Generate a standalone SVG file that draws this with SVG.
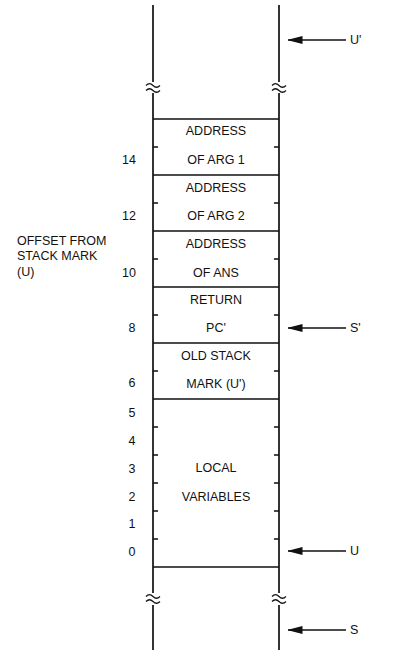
<svg xmlns="http://www.w3.org/2000/svg" width="401" height="671" viewBox="0 0 401 671">
<style>
text{font-family:"Liberation Sans",Arial,sans-serif;font-size:12.5px;fill:#111;dominant-baseline:central}
.c{text-anchor:middle}
.ln{stroke:#111;stroke-width:1.7;fill:none}
.tk{stroke:#111;stroke-width:1.5;fill:none}
.wv{stroke:#111;stroke-width:1.2;fill:none}
.ar{stroke:#111;stroke-width:1.5;fill:none}
</style>
<defs>
<marker id="ah" viewBox="0 0 15 8" refX="14.5" refY="4" markerWidth="15" markerHeight="8" markerUnits="userSpaceOnUse" orient="auto">
<path d="M15,4 L0,0 L0,8 Z" fill="#111"/>
</marker>
<g id="brk">
<path d="M-7,-2.5 q3.5,-3.5 7,0 t7,0" class="wv"/>
<path d="M-7,2.5 q3.5,-3.5 7,0 t7,0" class="wv"/>
</g>
</defs>
<g id="stack">
<path class="ln" d="M153,5 V82 M153,93 V593 M153,605 V650 M279,5 V82 M279,93 V593 M279,605 V650"/>
<path class="ln" d="M153,119 H279 M153,175 H279 M153,231 H279 M153,287 H279 M153,343 H279 M153,399 H279 M153,567 H279"/>
<path class="tk" d="M153,147 h5 M279,147 h-5 M153,203 h5 M279,203 h-5 M153,259 h5 M279,259 h-5 M153,315 h5 M279,315 h-5 M153,371 h5 M279,371 h-5 M153,427 h5 M279,427 h-5 M153,455 h5 M279,455 h-5 M153,483 h5 M279,483 h-5 M153,511 h5 M279,511 h-5 M153,539 h5 M279,539 h-5"/>
<use href="#brk" x="153" y="88"/>
<use href="#brk" x="279" y="88"/>
<use href="#brk" x="153" y="599"/>
<use href="#brk" x="279" y="599"/>
</g>
<g id="cell-arg1"><text class="c" x="216" y="131">ADDRESS</text><text class="c" x="216" y="160">OF ARG 1</text></g>
<g id="cell-arg2"><text class="c" x="216" y="188">ADDRESS</text><text class="c" x="216" y="216">OF ARG 2</text></g>
<g id="cell-ans"><text class="c" x="216" y="244">ADDRESS</text><text class="c" x="216" y="273">OF ANS</text></g>
<g id="cell-ret"><text class="c" x="216" y="300">RETURN</text><text class="c" x="216" y="328">PC'</text></g>
<g id="cell-old"><text class="c" x="216" y="356">OLD STACK</text><text class="c" x="216" y="384">MARK (U')</text></g>
<g id="cell-local"><text class="c" x="216" y="468">LOCAL</text><text class="c" x="216" y="497">VARIABLES</text></g>
<g id="offsets">
<text class="c" x="129" y="160">14</text>
<text class="c" x="129" y="216">12</text>
<text class="c" x="129" y="273">10</text>
<text class="c" x="132" y="328">8</text>
<text class="c" x="132" y="383">6</text>
<text class="c" x="132" y="413">5</text>
<text class="c" x="132" y="441">4</text>
<text class="c" x="132" y="469">3</text>
<text class="c" x="132" y="497">2</text>
<text class="c" x="132" y="524">1</text>
<text class="c" x="132" y="552">0</text>
</g>
<g id="offset-label">
<text x="17" y="241">OFFSET FROM</text>
<text x="17" y="256">STACK MARK</text>
<text x="17" y="272">(U)</text>
</g>
<g id="connectors">
<line class="ar" x1="346" y1="40" x2="288" y2="40" marker-end="url(#ah)"/>
<line class="ar" x1="346" y1="328" x2="288" y2="328" marker-end="url(#ah)"/>
<line class="ar" x1="346" y1="551" x2="288" y2="551" marker-end="url(#ah)"/>
<line class="ar" x1="346" y1="630" x2="288" y2="630" marker-end="url(#ah)"/>
</g>
<g id="pointers">
<text x="350" y="40">U'</text>
<text x="350" y="328">S'</text>
<text x="350" y="551">U</text>
<text x="350" y="630">S</text>
</g>
</svg>
